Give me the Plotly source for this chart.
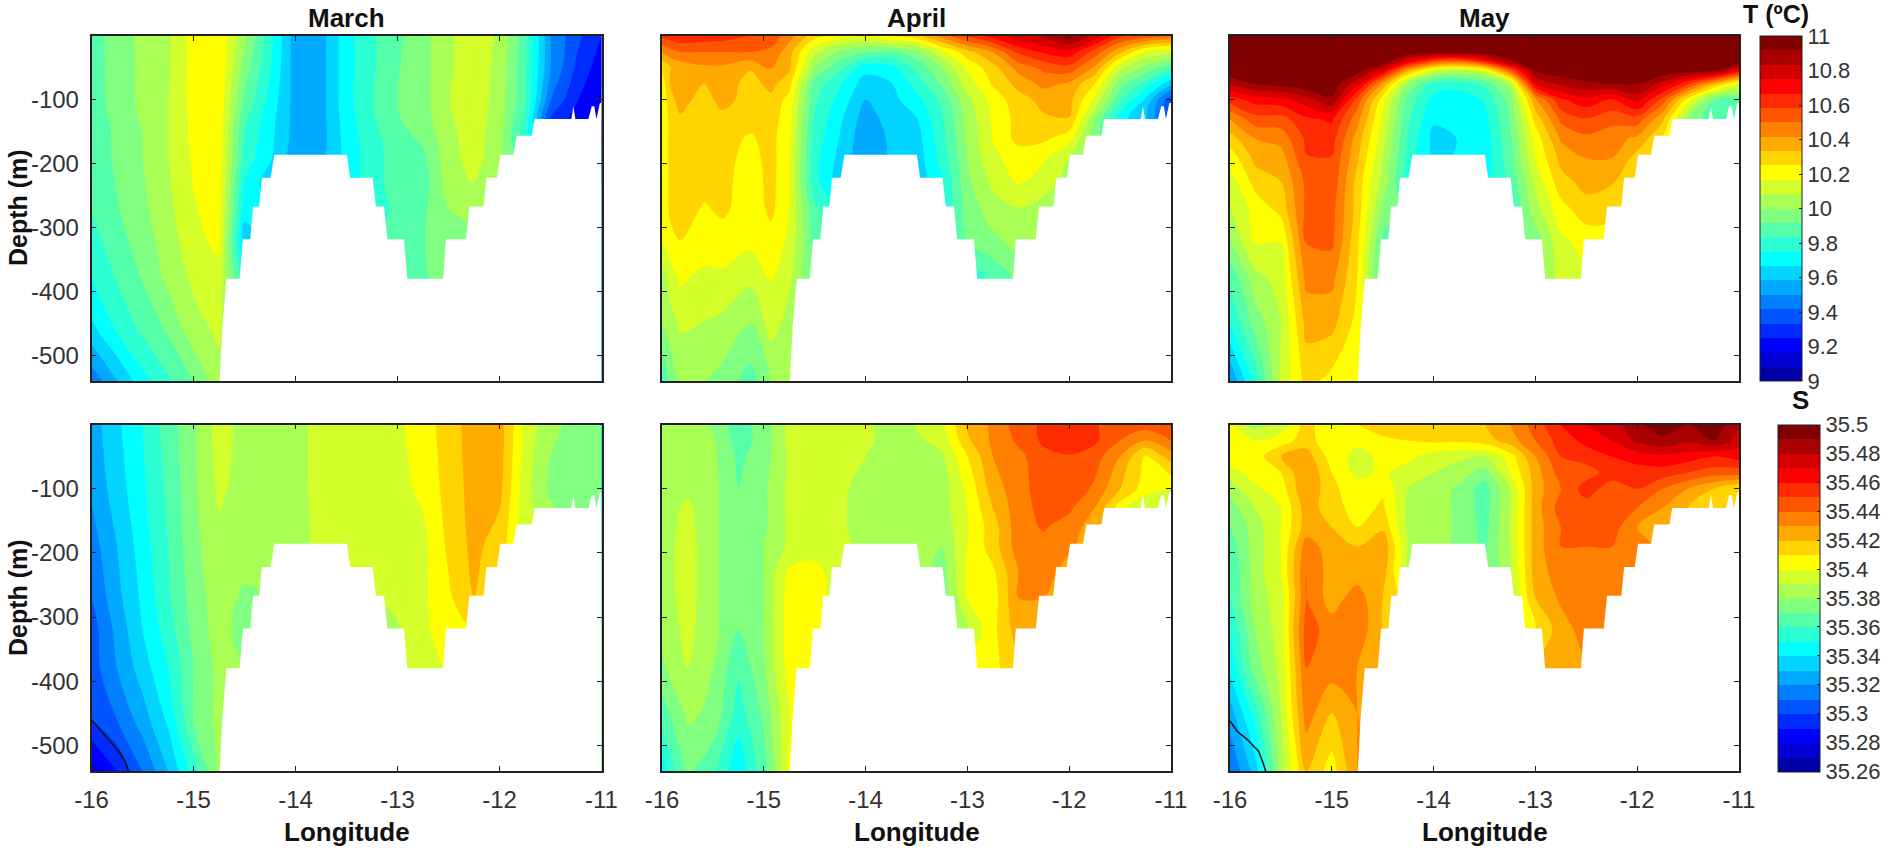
import plotly.graph_objects as go

_ = None
lon = [-16, -15.75, -15.5, -15.25, -15, -14.75, -14.5, -14.25, -14, -13.75, -13.5,
       -13.25, -13, -12.75, -12.5, -12.25, -12, -11.75, -11.5, -11.25, -11]
lon_apr_t = [-16, -15.92, -15.82, -15.58, -15.41, -15.13, -14.93, -14.75, -14.5, -14.25, -14, -13.75, -13.5,
             -13.25, -13, -12.75, -12.5, -12.25, -12, -11.75, -11.5, -11.25, -11]

seabed_lon = [-14.744, -14.716, -14.676, -14.548, -14.516, -14.444, -14.416, -14.356, -14.33, -14.244,
              -14.208, -13.496, -13.464, -13.244, -13.212, -13.132, -13.1, -12.936, -12.904, -12.552,
              -12.524, -12.328, -12.296, -12.156, -12.128, -12.024, -11.992, -11.864, -11.832, -11.684,
              -11.656, -11.296, -11.276, -11.256, -11.128, -11.096, -11.07, -11.05, -11.016, -11]
seabed_depth = [-540, -454, -380, -380, -318, -318, -267, -267, -222, -222,
                -186, -186, -222, -222, -267, -267, -318, -318, -380, -380,
                -318, -318, -267, -267, -222, -222, -186, -186, -156, -156,
                -130, -130, -110, -130, -130, -110, -110, -130, -105, -105]

t_ticks = [9, 9.2, 9.4, 9.6, 9.8, 10, 10.2, 10.4, 10.6, 10.8, 11]
s_ticks = [35.26, 35.28, 35.3, 35.32, 35.34, 35.36, 35.38, 35.4, 35.42, 35.44, 35.46, 35.48, 35.5]
lon_ticks = [-16, -15, -14, -13, -12, -11]
depth_ticks = [-500, -400, -300, -200, -100]
jet24 = ["#0000aa", "#0000d4", "#0000ff", "#002bff", "#0055ff", "#0080ff", "#00aaff", "#00d4ff",
         "#00ffff", "#2bffd4", "#55ffaa", "#80ff80", "#aaff55", "#d4ff2b", "#ffff00", "#ffd400",
         "#ffaa00", "#ff8000", "#ff5500", "#ff2b00", "#ff0000", "#d40000", "#aa0000", "#800000"]

depth_mar_t = [0, -50, -100, -130, -160, -190, -230, -270, -320, -380, -460, -540]
mar_t = [
 [9.88,9.96,10.02,10.07,10.2,10.24,10.02,9.78,9.54,9.55,9.72,9.82,9.9,9.97,10.07,10.13,10.07,9.86,9.5,9.36,9.25],
 [9.88,9.95,10.02,10.07,10.2,10.24,9.96,9.76,9.54,9.55,9.72,9.82,9.91,9.97,10.07,10.13,10.06,9.85,9.5,9.32,9.2],
 [9.88,9.95,10.02,10.08,10.2,10.23,9.9,9.72,9.55,9.55,9.72,9.83,9.92,9.97,10.08,10.13,10.05,9.85,9.42,9.26,9.15],
 [9.87,9.94,10.01,10.08,10.19,10.23,9.85,9.7,9.55,9.55,9.71,9.82,9.91,9.96,10.07,10.13,10.04,9.82,9.33,9.22,9.15],
 [9.87,9.93,10.0,10.08,10.19,10.22,9.82,9.69,9.55,9.55,9.7,9.8,9.89,9.93,10.06,10.12,10.03,9.78,_,_,_],
 [9.87,9.93,10.0,10.08,10.18,10.22,9.8,9.68,9.54,9.56,9.7,9.79,9.88,9.9,10.05,10.12,10.02,_,_,_,_],
 [9.86,9.92,9.99,10.07,10.17,10.21,9.74,9.62,_,_,9.7,9.8,9.87,9.87,10.04,10.09,10.0,_,_,_,_],
 [9.84,9.91,9.98,10.06,10.16,10.2,9.7,_,_,_,_,9.78,9.86,9.9,10.0,10.02,_,_,_,_,_],
 [9.8,9.88,9.96,10.04,10.14,10.19,9.62,_,_,_,_,_,9.87,9.91,10.0,_,_,_,_,_,_],
 [9.75,9.84,9.92,10.02,10.1,10.13,9.78,_,_,_,_,_,9.9,9.91,_,_,_,_,_,_,_],
 [9.64,9.76,9.85,9.93,10.05,10.1,_,_,_,_,_,_,_,_,_,_,_,_,_,_,_],
 [9.44,9.58,9.72,9.82,9.92,10.05,_,_,_,_,_,_,_,_,_,_,_,_,_,_,_],
]

depth_apr_t = [0, -25, -50, -75, -100, -130, -160, -190, -230, -270, -320, -380, -450, -540]
apr_t = [
 [10.6,10.62,10.65,10.63,10.62,10.58,10.55,10.45,10.28,10.2,10.18,10.25,10.3,10.45,10.6,10.7,10.8,10.85,10.95,10.8,10.6,10.55,10.5],
 [10.42,10.47,10.5,10.5,10.5,10.5,10.48,10.37,10.1,9.98,9.92,9.9,9.97,10.15,10.3,10.42,10.6,10.68,10.72,10.55,10.35,10.15,10.1],
 [10.26,10.33,10.36,10.4,10.4,10.34,10.42,10.35,10.0,9.85,9.7,9.72,9.85,10.0,10.18,10.3,10.45,10.52,10.55,10.4,10.1,9.98,9.85],
 [10.2,10.34,10.38,10.33,10.38,10.3,10.36,10.28,9.88,9.76,9.62,9.66,9.78,9.93,10.12,10.26,10.36,10.44,10.4,10.25,9.95,9.8,9.6],
 [10.18,10.3,10.37,10.29,10.37,10.29,10.31,10.22,9.85,9.72,9.58,9.64,9.72,9.85,10.06,10.2,10.3,10.36,10.36,10.15,9.85,9.65,9.35],
 [10.18,10.27,10.32,10.28,10.3,10.28,10.29,10.2,9.82,9.68,9.54,9.62,9.66,9.82,10.03,10.18,10.28,10.32,10.33,10.0,9.7,9.6,9.35],
 [10.18,10.27,10.29,10.28,10.28,10.24,10.28,10.18,9.8,9.66,9.52,9.6,9.63,9.8,10.02,10.17,10.28,10.27,10.2,9.95,_,_,_],
 [10.18,10.27,10.29,10.28,10.28,10.22,10.28,10.18,9.78,9.64,9.53,9.6,9.62,9.78,10.0,10.15,10.2,10.18,10.08,_,_,_,_],
 [10.17,10.27,10.29,10.28,10.28,10.2,10.28,10.17,9.78,9.62,_,_,9.62,9.74,9.98,10.1,10.17,10.12,10.05,_,_,_,_],
 [10.17,10.27,10.29,10.24,10.27,10.2,10.27,10.17,9.85,_,_,_,_,9.76,9.95,10.05,10.08,10.05,_,_,_,_,_],
 [10.17,10.22,10.25,10.22,10.21,10.19,10.22,10.15,9.88,_,_,_,_,_,9.92,9.98,10.03,_,_,_,_,_,_],
 [10.03,10.12,10.18,10.14,10.15,10.1,10.17,10.1,9.9,_,_,_,_,_,9.78,9.85,_,_,_,_,_,_,_],
 [10.0,10.05,10.1,10.08,10.06,10.0,10.12,10.05,_,_,_,_,_,_,_,_,_,_,_,_,_,_,_],
 [9.84,9.93,10.0,10.0,9.97,9.88,10.0,10.03,_,_,_,_,_,_,_,_,_,_,_,_,_,_,_],
]

depth_may_t = [0, -25, -40, -55, -75, -100, -130, -160, -190, -230, -270, -320, -380, -450, -540]
may_t = [
 [10.98]*21,
 [10.98]*21,
 [10.98,10.98,10.98,10.98,10.98,10.98,10.98,10.75,10.55,10.5,10.65,10.9,10.98,10.98,10.98,10.98,10.98,10.98,10.98,10.98,10.98],
 [10.98,10.98,10.98,10.98,10.98,10.95,10.75,10.35,10.1,10.05,10.12,10.5,10.92,10.98,10.98,10.98,10.98,10.98,10.95,10.92,10.7],
 [10.85,10.92,10.95,10.98,10.98,10.78,10.4,10.0,9.8,9.78,9.85,10.05,10.75,10.85,10.9,10.92,10.92,10.8,10.6,10.35,10.15],
 [10.62,10.7,10.72,10.8,10.9,10.55,10.2,9.88,9.72,9.7,9.76,9.95,10.4,10.65,10.72,10.65,10.78,10.55,10.2,9.92,9.88],
 [10.42,10.55,10.55,10.65,10.68,10.45,10.15,9.85,9.68,9.68,9.72,9.92,10.28,10.52,10.58,10.53,10.55,10.35,10.0,9.85,9.8],
 [10.3,10.42,10.45,10.6,10.62,10.38,10.12,9.82,9.64,9.67,9.7,9.9,10.2,10.43,10.48,10.45,10.4,10.25,_,_,_],
 [10.2,10.36,10.38,10.58,10.58,10.35,10.08,9.8,9.66,9.67,9.7,9.88,10.17,10.36,10.42,10.42,10.3,_,_,_,_],
 [10.12,10.28,10.33,10.52,10.56,10.3,10.05,9.78,_,_,9.72,9.85,10.1,10.3,10.36,10.34,10.22,_,_,_,_],
 [10.08,10.2,10.28,10.52,10.53,10.3,9.98,_,_,_,_,9.82,10.05,10.22,10.3,10.28,_,_,_,_,_],
 [10.0,10.18,10.17,10.51,10.52,10.27,9.9,_,_,_,_,_,9.95,10.15,10.2,_,_,_,_,_,_],
 [9.85,10.05,10.12,10.44,10.44,10.25,9.85,_,_,_,_,_,10.02,10.1,_,_,_,_,_,_,_],
 [9.75,9.95,10.08,10.36,10.36,10.22,_,_,_,_,_,_,_,_,_,_,_,_,_,_,_],
 [9.5,9.78,10.1,10.28,10.22,10.18,_,_,_,_,_,_,_,_,_,_,_,_,_,_,_],
]

depth_mar_s = [0, -100, -190, -270, -320, -380, -460, -540]
mar_s = [
 [35.325,35.338,35.35,35.365,35.378,35.395,35.386,35.385,35.388,35.392,35.394,35.395,35.398,35.405,35.415,35.425,35.425,35.398,35.382,35.378,35.375],
 [35.322,35.335,35.348,35.362,35.378,35.392,35.386,35.385,35.388,35.392,35.393,35.39,35.397,35.402,35.414,35.424,35.423,35.394,35.378,35.375,35.373],
 [35.315,35.33,35.345,35.36,35.377,35.387,35.386,35.386,35.388,35.391,35.392,35.39,35.397,35.397,35.412,35.423,35.415,35.395,_,_,_],
 [35.31,35.327,35.342,35.358,35.375,35.385,35.378,35.38,_,_,35.39,35.39,35.392,35.398,35.408,35.42,_,_,_,_,_],
 [35.305,35.323,35.34,35.355,35.373,35.385,35.375,_,_,_,_,_,35.389,35.398,35.405,35.41,_,_,_,_,_],
 [35.305,35.32,35.335,35.35,35.37,35.383,_,_,_,_,_,_,35.388,35.393,35.402,_,_,_,_,_,_],
 [35.3,35.31,35.325,35.342,35.37,35.383,_,_,_,_,_,_,_,_,_,_,_,_,_,_,_],
 [35.275,35.29,35.31,35.33,35.355,35.382,_,_,_,_,_,_,_,_,_,_,_,_,_,_,_],
]

depth_apr_s = [0, -25, -50, -100, -130, -160, -190, -230, -270, -320, -380, -450, -540]
apr_s = [
 [35.38,35.385,35.378,35.365,35.375,35.393,35.395,35.393,35.392,35.385,35.391,35.397,35.422,35.432,35.445,35.452,35.458,35.452,35.44,35.445,35.45],
 [35.382,35.385,35.382,35.365,35.374,35.393,35.395,35.394,35.392,35.386,35.388,35.394,35.418,35.432,35.442,35.452,35.457,35.452,35.44,35.43,35.44],
 [35.382,35.385,35.382,35.368,35.375,35.392,35.395,35.394,35.39,35.385,35.385,35.388,35.41,35.43,35.437,35.447,35.449,35.445,35.43,35.408,35.425],
 [35.384,35.388,35.383,35.37,35.378,35.392,35.393,35.392,35.386,35.385,35.385,35.385,35.402,35.425,35.436,35.445,35.448,35.438,35.42,35.405,35.4],
 [35.385,35.392,35.383,35.37,35.378,35.392,35.393,35.392,35.385,35.385,35.385,35.385,35.4,35.42,35.436,35.443,35.442,35.43,35.405,35.39,35.39],
 [35.386,35.393,35.383,35.37,35.378,35.392,35.393,35.392,35.385,35.385,35.385,35.383,35.4,35.415,35.436,35.441,35.435,35.425,_,_,_],
 [35.386,35.394,35.383,35.37,35.38,35.392,35.395,35.395,35.385,35.385,35.385,35.38,35.4,35.415,35.435,35.437,35.432,_,_,_,_],
 [35.386,35.394,35.383,35.37,35.38,35.402,35.404,35.393,_,_,35.385,35.375,35.402,35.408,35.43,35.435,35.425,_,_,_,_],
 [35.385,35.394,35.383,35.37,35.38,35.405,35.403,_,_,_,_,35.374,35.4,35.405,35.43,35.43,_,_,_,_,_],
 [35.383,35.393,35.383,35.37,35.38,35.405,35.402,_,_,_,_,_,35.39,35.407,35.425,35.42,_,_,_,_,_],
 [35.378,35.39,35.38,35.362,35.378,35.405,_,_,_,_,_,_,35.405,35.408,35.415,_,_,_,_,_,_],
 [35.365,35.382,35.378,35.355,35.372,35.4,_,_,_,_,_,_,_,_,_,_,_,_,_,_,_],
 [35.345,35.372,35.362,35.343,35.365,35.402,_,_,_,_,_,_,_,_,_,_,_,_,_,_,_],
]

depth_may_s = [0, -25, -50, -75, -100, -130, -160, -190, -230, -270, -320, -380, -450, -540]
may_s = [
 [35.402,35.385,35.393,35.415,35.4,35.41,35.415,35.418,35.418,35.418,35.42,35.43,35.445,35.46,35.47,35.475,35.488,35.495,35.49,35.498,35.48],
 [35.41,35.4,35.405,35.415,35.402,35.402,35.408,35.41,35.412,35.412,35.415,35.425,35.44,35.455,35.463,35.47,35.482,35.488,35.482,35.49,35.475],
 [35.41,35.405,35.42,35.425,35.405,35.397,35.402,35.403,35.395,35.392,35.39,35.405,35.43,35.45,35.455,35.46,35.465,35.468,35.465,35.46,35.465],
 [35.395,35.405,35.41,35.43,35.41,35.397,35.402,35.395,35.39,35.385,35.375,35.4,35.425,35.445,35.445,35.455,35.455,35.455,35.45,35.445,35.445],
 [35.385,35.398,35.405,35.43,35.412,35.405,35.408,35.39,35.385,35.378,35.365,35.39,35.425,35.44,35.455,35.445,35.45,35.44,35.43,35.42,35.41],
 [35.375,35.39,35.4,35.425,35.415,35.405,35.412,35.388,35.385,35.378,35.365,35.39,35.425,35.445,35.445,35.442,35.44,35.43,35.42,35.415,35.41],
 [35.37,35.385,35.4,35.425,35.42,35.41,35.418,35.388,35.385,35.378,35.366,35.39,35.425,35.44,35.44,35.445,35.43,35.42,_,_,_],
 [35.365,35.385,35.4,35.435,35.425,35.42,35.428,35.39,35.385,35.378,35.368,35.39,35.425,35.44,35.44,35.44,35.435,_,_,_,_],
 [35.36,35.385,35.4,35.44,35.425,35.425,35.425,35.39,_,_,35.37,35.388,35.425,35.435,35.435,35.435,35.43,_,_,_,_],
 [35.36,35.385,35.395,35.44,35.425,35.435,35.42,_,_,_,_,35.388,35.42,35.432,35.435,35.435,_,_,_,_,_],
 [35.35,35.38,35.395,35.445,35.435,35.437,35.42,_,_,_,_,_,35.41,35.425,35.435,_,_,_,_,_,_],
 [35.343,35.375,35.393,35.44,35.435,35.43,_,_,_,_,_,_,35.42,35.425,35.428,_,_,_,_,_,_],
 [35.325,35.355,35.39,35.435,35.42,35.43,_,_,_,_,_,_,_,_,_,_,_,_,_,_,_],
 [35.31,35.335,35.385,35.42,35.405,35.43,_,_,_,_,_,_,_,_,_,_,_,_,_,_,_],
]

iso_mar_lon = [-16, -15.917, -15.82, -15.72, -15.665, -15.64]
iso_mar_depth = [-460, -475, -494, -512, -527, -540]
iso_may_lon = [-16, -15.93, -15.83, -15.72, -15.68, -15.65]
iso_may_depth = [-462, -478, -491, -509, -525, -540]

W, H = 1890, 850
FONT = "Liberation Sans"
cols = [(91.5, 601.5), (662, 1171), (1230, 1739)]
rows = [(36, 381), (424.5, 771)]
cscale = []
for i, c in enumerate(jet24):
    cscale += [[i / 24, c], [(i + 1) / 24, c]]

fig = go.Figure()
panels = [
    (0, 0, lon, depth_mar_t, mar_t), (0, 1, lon_apr_t, depth_apr_t, apr_t), (0, 2, lon, depth_may_t, may_t),
    (1, 0, lon, depth_mar_s, mar_s), (1, 1, lon, depth_apr_s, apr_s), (1, 2, lon, depth_may_s, may_s),
]
for r, c, xs, dep, z in panels:
    n = r * 3 + c + 1
    xa = "x" if n == 1 else f"x{n}"
    ya = "y" if n == 1 else f"y{n}"
    is_t = r == 0
    lo, hi = (9, 11) if is_t else (35.26, 35.5)
    step = (hi - lo) / 24
    show = c == 2
    cb = None
    if show:
        cb = dict(
            x=(1760 if is_t else 1778) / W, xanchor="left", xpad=0, ypad=0,
            y=1 - rows[r][0] / H, yanchor="top",
            lenmode="fraction", len=(rows[r][1] - rows[r][0]) / H,
            thicknessmode="pixels", thickness=42,
            tickvals=t_ticks if is_t else s_ticks,
            ticktext=[f"{v:g}" for v in (t_ticks if is_t else s_ticks)],
            ticks="inside", ticklen=3, tickcolor="#222", outlinecolor="#222", outlinewidth=1,
            tickfont=dict(family=FONT, size=22, color="#333"),
        )
    fig.add_trace(go.Contour(
        x=xs, y=dep, z=z, xaxis=xa, yaxis=ya, connectgaps=True,
        zmin=lo, zmax=hi, zauto=False, colorscale=cscale, showscale=show, colorbar=cb,
        autocontour=False, contours=dict(start=lo, end=hi + step * 1e-3, size=step, coloring="fill", showlines=False),
        line=dict(width=0), hoverinfo="skip",
    ))
    fig.add_trace(go.Scatter(
        x=seabed_lon + [-11, -14.744], y=seabed_depth + [-540, -540], xaxis=xa, yaxis=ya,
        mode="lines", fill="toself", fillcolor="white", line=dict(width=0, color="white"),
        hoverinfo="skip", showlegend=False,
    ))
    fig.layout[("xaxis" if n == 1 else f"xaxis{n}")] = dict(
        domain=[cols[c][0] / W, cols[c][1] / W], anchor=ya, range=[-16, -11],
        tickvals=lon_ticks, ticktext=[str(v) for v in lon_ticks], showticklabels=r == 1,
        ticks="inside", ticklen=5, tickwidth=1, tickcolor="#222", showline=True, linecolor="#222",
        linewidth=1.5, mirror="ticks", showgrid=False, zeroline=False, ticklabelstandoff=6,
        tickfont=dict(family=FONT, size=24, color="#333"),
    )
    fig.layout[("yaxis" if n == 1 else f"yaxis{n}")] = dict(
        domain=[1 - rows[r][1] / H, 1 - rows[r][0] / H], anchor=xa, range=[-540, 0],
        tickvals=depth_ticks, ticktext=[str(v) for v in depth_ticks], showticklabels=c == 0,
        ticks="inside", ticklen=5, tickwidth=1, tickcolor="#222", showline=True, linecolor="#222",
        linewidth=1.5, mirror="ticks", showgrid=False, zeroline=False, ticklabelstandoff=6,
        tickfont=dict(family=FONT, size=24, color="#333"),
    )

fig.add_trace(go.Scatter(x=iso_mar_lon, y=iso_mar_depth, xaxis="x4", yaxis="y4", mode="lines",
                         line=dict(color="#111", width=1.5), hoverinfo="skip", showlegend=False))
fig.add_trace(go.Scatter(x=iso_may_lon, y=iso_may_depth, xaxis="x6", yaxis="y6", mode="lines",
                         line=dict(color="#111", width=1.5), hoverinfo="skip", showlegend=False))

def label(text, x, y, size=26, angle=0):
    fig.add_annotation(text=f"<b>{text}</b>", x=x / W, y=1 - y / H, xref="paper", yref="paper",
                       showarrow=False, textangle=angle, xanchor="center", yanchor="middle",
                       font=dict(family=FONT, size=size, color="#111"))

for name, (a, b) in zip(["March", "April", "May"], cols):
    label(name, (a + b) / 2, 18)
    label("Longitude", (a + b) / 2, 832)
label("Depth (m)", 18, 208, size=25, angle=-90)
label("Depth (m)", 18, 598, size=25, angle=-90)
label("T (ºC)", 1776, 14, size=25)
label("S", 1800, 400)

fig.update_layout(width=W, height=H, autosize=False, showlegend=False, paper_bgcolor="white",
                  plot_bgcolor="white", margin=dict(l=0, r=0, t=0, b=0, autoexpand=False))
fig.write_html("out.html", post_script="document.body.style.margin='0';", config={"displayModeBar": False})
